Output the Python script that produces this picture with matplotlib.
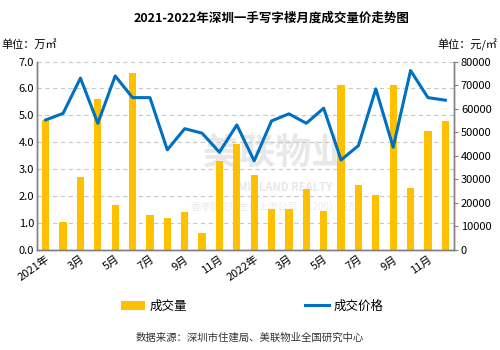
import matplotlib
matplotlib.use('Agg')
import matplotlib.pyplot as plt
import numpy as np

plt.rcParams['font.family'] = ['Noto Sans CJK SC', 'DejaVu Sans']

months = ['2021年', '2月', '3月', '4月', '5月', '6月', '7月', '8月', '9月', '10月', '11月', '12月',
          '2022年', '2月', '3月', '4月', '5月', '6月', '7月', '8月', '9月', '10月', '11月', '12月']
volume = [4.83, 1.04, 2.71, 5.61, 1.67, 6.58, 1.28, 1.19, 1.41, 0.63, 3.31, 3.94,
          2.79, 1.52, 1.52, 2.27, 1.45, 6.13, 2.42, 2.04, 6.13, 2.30, 4.42, 4.80]
price = [55200, 58000, 73000, 53800, 73900, 64700, 64700, 42500, 51500, 49600, 41500, 53100,
         37800, 54800, 57800, 53800, 60200, 38200, 44300, 68400, 43600, 76200, 64700, 63600]

bar_color = '#FFC000'
line_color = '#0070C0'
grid_color = '#C8C8C8'
axis_color = '#808080'

fig = plt.figure(figsize=(5, 3.5), dpi=100)
ax = fig.add_axes([0.074, 0.286, 0.834, 0.538])
ax2 = ax.twinx()

x = np.arange(len(months))
bars = ax.bar(x, volume, width=0.42, color=bar_color, zorder=2, label='成交量')
line, = ax2.plot(x, price, color=line_color, lw=2.2, zorder=3, label='成交价格')

ax.set_zorder(ax2.get_zorder() - 1)
ax.patch.set_visible(False)
ax2.patch.set_visible(False)

ax.set_xlim(-0.5, len(months) - 0.5)
ax.set_ylim(0, 7)
ax2.set_ylim(0, 80000)
ax.set_yticks(np.arange(0, 7.01, 1.0))
ax.set_yticklabels(['%.1f' % v for v in np.arange(0, 7.01, 1.0)])
ax2.set_yticks(np.arange(0, 80001, 10000))
ax2.set_yticklabels([str(v) for v in range(0, 80001, 10000)])

ax.yaxis.grid(True, ls=(0, (4, 3)), color=grid_color, lw=0.8, zorder=0)

ax.set_xticks(x[::2])
ax.set_xticklabels(months[::2], rotation=35, ha='right', rotation_mode='anchor')

for a in (ax, ax2):
    a.spines['top'].set_visible(False)
    for s in ('left', 'right', 'bottom'):
        a.spines[s].set_color(axis_color)
        a.spines[s].set_linewidth(1.0)
    a.tick_params(labelsize=8, colors='black', length=3, width=0.8, pad=2)
    a.tick_params(axis='both', color=axis_color)
ax.tick_params(axis='x', length=0, pad=3)
ax.tick_params(axis='y', length=0)
ax2.tick_params(axis='y', direction='out', length=3)

# faint watermark, behind the bars
ax.text(0.55, 0.56, '美联物业', transform=fig.transFigure, ha='center', va='center',
        fontsize=26, color='#E8E8E8', fontweight='bold', zorder=1)
ax.text(0.57, 0.465, 'MIDLAND REALTY', transform=fig.transFigure, ha='center', va='center',
        fontsize=8, color='#E8E8E8', fontweight='bold', zorder=1)
ax.text(0.55, 0.41, '香港联交所主板上市公司（1200）成员', transform=fig.transFigure, ha='center',
        va='center', fontsize=7, color='#EBEBEB', zorder=1)

fig.text(0.544, 0.949, '2021-2022年深圳一手写字楼月度成交量价走势图', ha='center', va='center',
         fontsize=9, fontweight='bold')
fig.text(0.003, 0.872, '单位：万㎡', ha='left', va='center', fontsize=8)
fig.text(0.995, 0.872, '单位：元/㎡', ha='right', va='center', fontsize=8)

fig.legend([bars, line], ['成交量', '成交价格'], loc='center', bbox_to_anchor=(0.505, 0.125),
           ncol=2, frameon=False, fontsize=9, columnspacing=9.4, handlelength=1.9,
           handletextpad=0.4)
fig.text(0.5, 0.036, '数据来源：深圳市住建局、美联物业全国研究中心', ha='center', va='center',
         fontsize=7.5, color='#333333')

fig.savefig('out.png', dpi=100)
